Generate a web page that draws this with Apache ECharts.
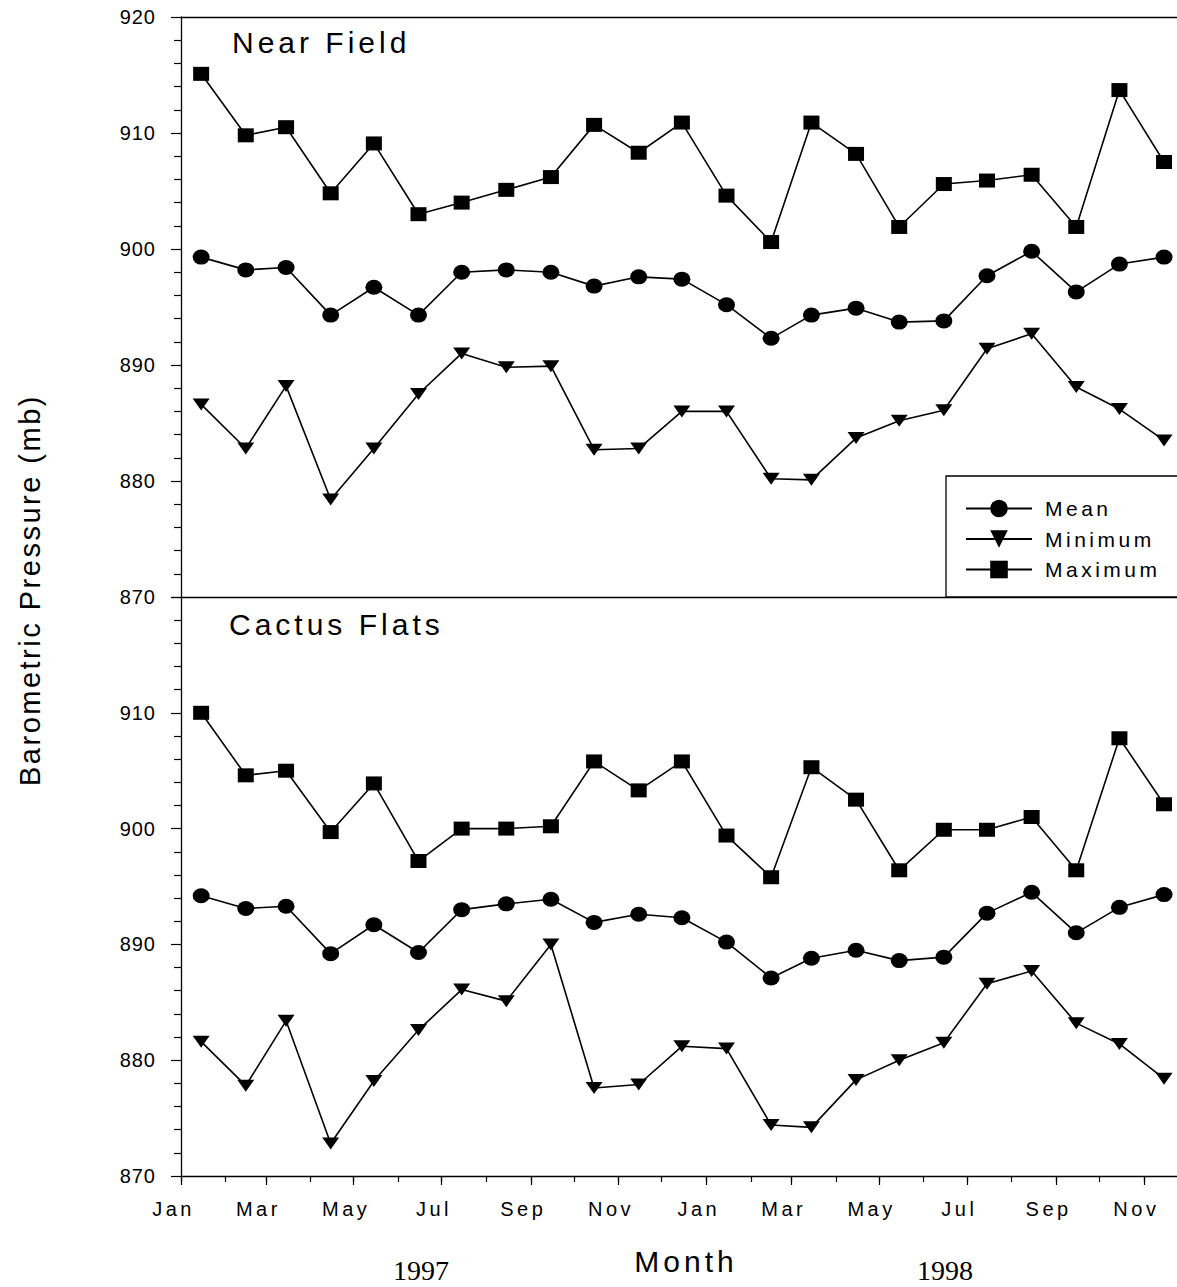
<!DOCTYPE html>
<html>
<head>
<meta charset="utf-8">
<script src="https://cdn.jsdelivr.net/npm/echarts@6/dist/echarts.min.js"></script>
<style>
html, body { margin: 0; padding: 0; background: #fff; }
#chart { width: 1177px; height: 1287px; }
#chart svg text { letter-spacing: 3.5px; }
#chart svg text[text-anchor="end"] { letter-spacing: 1px; }
#chart svg text[style*="30px"] { letter-spacing: 4px; }
#chart svg text[style*="29px"] { letter-spacing: 2.5px; }
#chart svg text[style*="Serif"] { letter-spacing: 0; }
</style>
</head>
<body>
<div id="chart"></div>
<script>
// ---- data (Jan 1997 .. Nov 1998, monthly values, mb) ----
const monthCount = 23;
const tickLabels = ['Jan','Mar','May','Jul','Sep','Nov','Jan','Mar','May','Jul','Sep','Nov'];
const yearLabels = ['1997', '1998'];
const seriesNames = ['Mean', 'Minimum', 'Maximum'];
const panelTitles = ['Near Field', 'Cactus Flats'];

const nearMean = [899.3, 898.2, 898.4, 894.3, 896.7, 894.3, 898.0, 898.2, 898.0, 896.8, 897.6, 897.4, 895.2, 892.3, 894.3, 894.9, 893.7, 893.8, 897.7, 899.8, 896.3, 898.7, 899.3];
const nearMin  = [886.6, 882.8, 888.2, 878.4, 882.8, 887.5, 891.0, 889.8, 889.9, 882.7, 882.8, 886.0, 886.0, 880.2, 880.1, 883.7, 885.2, 886.1, 891.4, 892.7, 888.1, 886.2, 883.5];
const nearMax  = [915.1, 909.8, 910.5, 904.8, 909.1, 903.0, 904.0, 905.1, 906.2, 910.7, 908.3, 910.9, 904.6, 900.6, 910.9, 908.2, 901.9, 905.6, 905.9, 906.4, 901.9, 913.7, 907.5];

const cactusMean = [894.2, 893.1, 893.3, 889.2, 891.7, 889.3, 893.0, 893.5, 893.9, 891.9, 892.6, 892.3, 890.2, 887.1, 888.8, 889.5, 888.6, 888.9, 892.7, 894.5, 891.0, 893.2, 894.3];
const cactusMin  = [881.6, 877.8, 883.4, 872.8, 878.2, 882.6, 886.1, 885.1, 890.0, 877.6, 877.9, 881.2, 881.0, 874.4, 874.2, 878.3, 880.0, 881.5, 886.6, 887.7, 883.2, 881.4, 878.4];
const cactusMax  = [910.0, 904.6, 905.0, 899.7, 903.9, 897.2, 900.0, 900.0, 900.2, 905.8, 903.3, 905.8, 899.4, 895.8, 905.3, 902.5, 896.4, 899.9, 899.9, 901.0, 896.4, 907.8, 902.1];

// ---- x scale: days since 1 Jan 1997 ----
const DAY = 86400000;
const base = Date.UTC(1997, 0, 1);
const dayOf = (m, d) => (Date.UTC(1997, m, d) - base) / DAY;
const xMid = [];
for (let i = 0; i < monthCount; i++) xMid.push(dayOf(i, 15));
const monthStarts = [];
for (let i = 0; i < monthCount; i++) monthStarts.push(dayOf(i, 1));
const labelStarts = monthStarts.filter((v, i) => i % 2 === 0);
const labelMap = {};
labelStarts.forEach((v, i) => { labelMap[v] = tickLabels[i]; });

const X_MAX = 692;
const FONT = 'Liberation Sans';

const pairs = arr => arr.map((v, i) => [xMid[i], v]);

const symDown = 'path://M0,0 L20,0 L10,14 Z';
const symEllipse = 'path://M0,10 a10,10 0 1,0 20,0 a10,10 0 1,0 -20,0 Z';
const symSquare = 'rect';

function lineSeries(name, data, xi, yi, symbol, size) {
  return {
    type: 'line', name: name, data: pairs(data),
    xAxisIndex: xi, yAxisIndex: yi,
    symbol: symbol, symbolSize: size, showSymbol: true,
    symbolKeepAspect: false,
    itemStyle: { color: '#000' },
    lineStyle: { color: '#000', width: 1.6 },
    silent: true, animation: false
  };
}

const axisLineStyle = { show: true, lineStyle: { color: '#000', width: 1.3 } };

function yAxisDef(gi, hideMax) {
  return {
    type: 'value', gridIndex: gi, min: 870, max: 920, interval: 10,
    axisLine: axisLineStyle,
    axisTick: { show: true, length: 10, lineStyle: { color: '#000', width: 1.2 } },
    minorTick: { show: true, splitNumber: 5, length: 7, lineStyle: { color: '#000', width: 1.2 } },
    splitLine: { show: false },
    axisLabel: { show: true, color: '#000', fontFamily: FONT, fontSize: 20, margin: 25, showMaxLabel: !hideMax }
  };
}

const chart = echarts.init(document.getElementById('chart'), null, { renderer: 'svg', width: 1177, height: 1287 });

const option = {
  animation: false,
  backgroundColor: '#fff',
  grid: [
    { left: 181, right: 0, top: 17, height: 580 },
    { left: 181, right: 0, top: 597, height: 579 }
  ],
  xAxis: [
    { type: 'value', gridIndex: 0, min: 0, max: X_MAX, position: 'bottom',
      axisLine: axisLineStyle, axisTick: { show: false }, axisLabel: { show: false }, splitLine: { show: false } },
    { type: 'value', gridIndex: 0, min: 0, max: X_MAX, position: 'top',
      axisLine: axisLineStyle, axisTick: { show: false }, axisLabel: { show: false }, splitLine: { show: false } },
    { type: 'value', gridIndex: 1, min: 0, max: X_MAX, position: 'bottom',
      axisLine: axisLineStyle,
      axisTick: { show: true, length: 6, customValues: monthStarts, lineStyle: { color: '#000', width: 1.2 } },
      axisLabel: { show: false }, splitLine: { show: false } },
    { type: 'value', gridIndex: 1, min: 0, max: X_MAX, position: 'bottom',
      axisLine: { show: false },
      axisTick: { show: true, length: 9, customValues: labelStarts, lineStyle: { color: '#000', width: 1.2 } },
      axisLabel: { show: true, customValues: labelStarts, color: '#000', fontFamily: FONT, fontSize: 20, margin: 23,
        padding: [0, 15, 0, 0],
        formatter: v => labelMap[v] || '' },
      splitLine: { show: false } }
  ],
  yAxis: [ yAxisDef(0, false), yAxisDef(1, true) ],
  title: [
    { text: panelTitles[0], left: 232, top: 27, padding: 0,
      textStyle: { color: '#000', fontFamily: FONT, fontSize: 30, fontWeight: 'normal' } },
    { text: panelTitles[1], left: 229, top: 609, padding: 0,
      textStyle: { color: '#000', fontFamily: FONT, fontSize: 30, fontWeight: 'normal' } }
  ],
  legend: {
    show: true, orient: 'vertical', left: 946, top: 476,
    padding: [22, 80, 17, 19], itemGap: 9.5, itemWidth: 66, itemHeight: 22,
    backgroundColor: '#fff', borderColor: '#000', borderWidth: 1.3, borderRadius: 0,
    data: seriesNames,
    textStyle: { color: '#000', fontFamily: FONT, fontSize: 21, padding: [0, 0, 0, 8] },
    selectedMode: false
  },
  series: [
    lineSeries(seriesNames[0], nearMean, 0, 0, symEllipse, [17, 15]),
    lineSeries(seriesNames[1], nearMin, 0, 0, symDown, [17, 12]),
    lineSeries(seriesNames[2], nearMax, 0, 0, symSquare, [16, 14]),
    lineSeries(seriesNames[0], cactusMean, 2, 1, symEllipse, [17, 15]),
    lineSeries(seriesNames[1], cactusMin, 2, 1, symDown, [17, 12]),
    lineSeries(seriesNames[2], cactusMax, 2, 1, symSquare, [16, 14])
  ],
  graphic: [
    { type: 'text', x: 30, y: 590, rotation: Math.PI / 2,
      style: { text: 'Barometric Pressure (mb)', fill: '#000', font: '29px ' + FONT, textAlign: 'center', textVerticalAlign: 'middle' } },
    { type: 'text', x: 686, y: 1261,
      style: { text: 'Month', fill: '#000', font: '30px ' + FONT, textAlign: 'center', textVerticalAlign: 'middle' } },
    { type: 'text', x: 421, y: 1270,
      style: { text: yearLabels[0], fill: '#000', font: '28px Liberation Serif', textAlign: 'center', textVerticalAlign: 'middle' } },
    { type: 'text', x: 945, y: 1270,
      style: { text: yearLabels[1], fill: '#000', font: '28px Liberation Serif', textAlign: 'center', textVerticalAlign: 'middle' } }
  ]
};
chart.setOption(option);
</script>
</body>
</html>
